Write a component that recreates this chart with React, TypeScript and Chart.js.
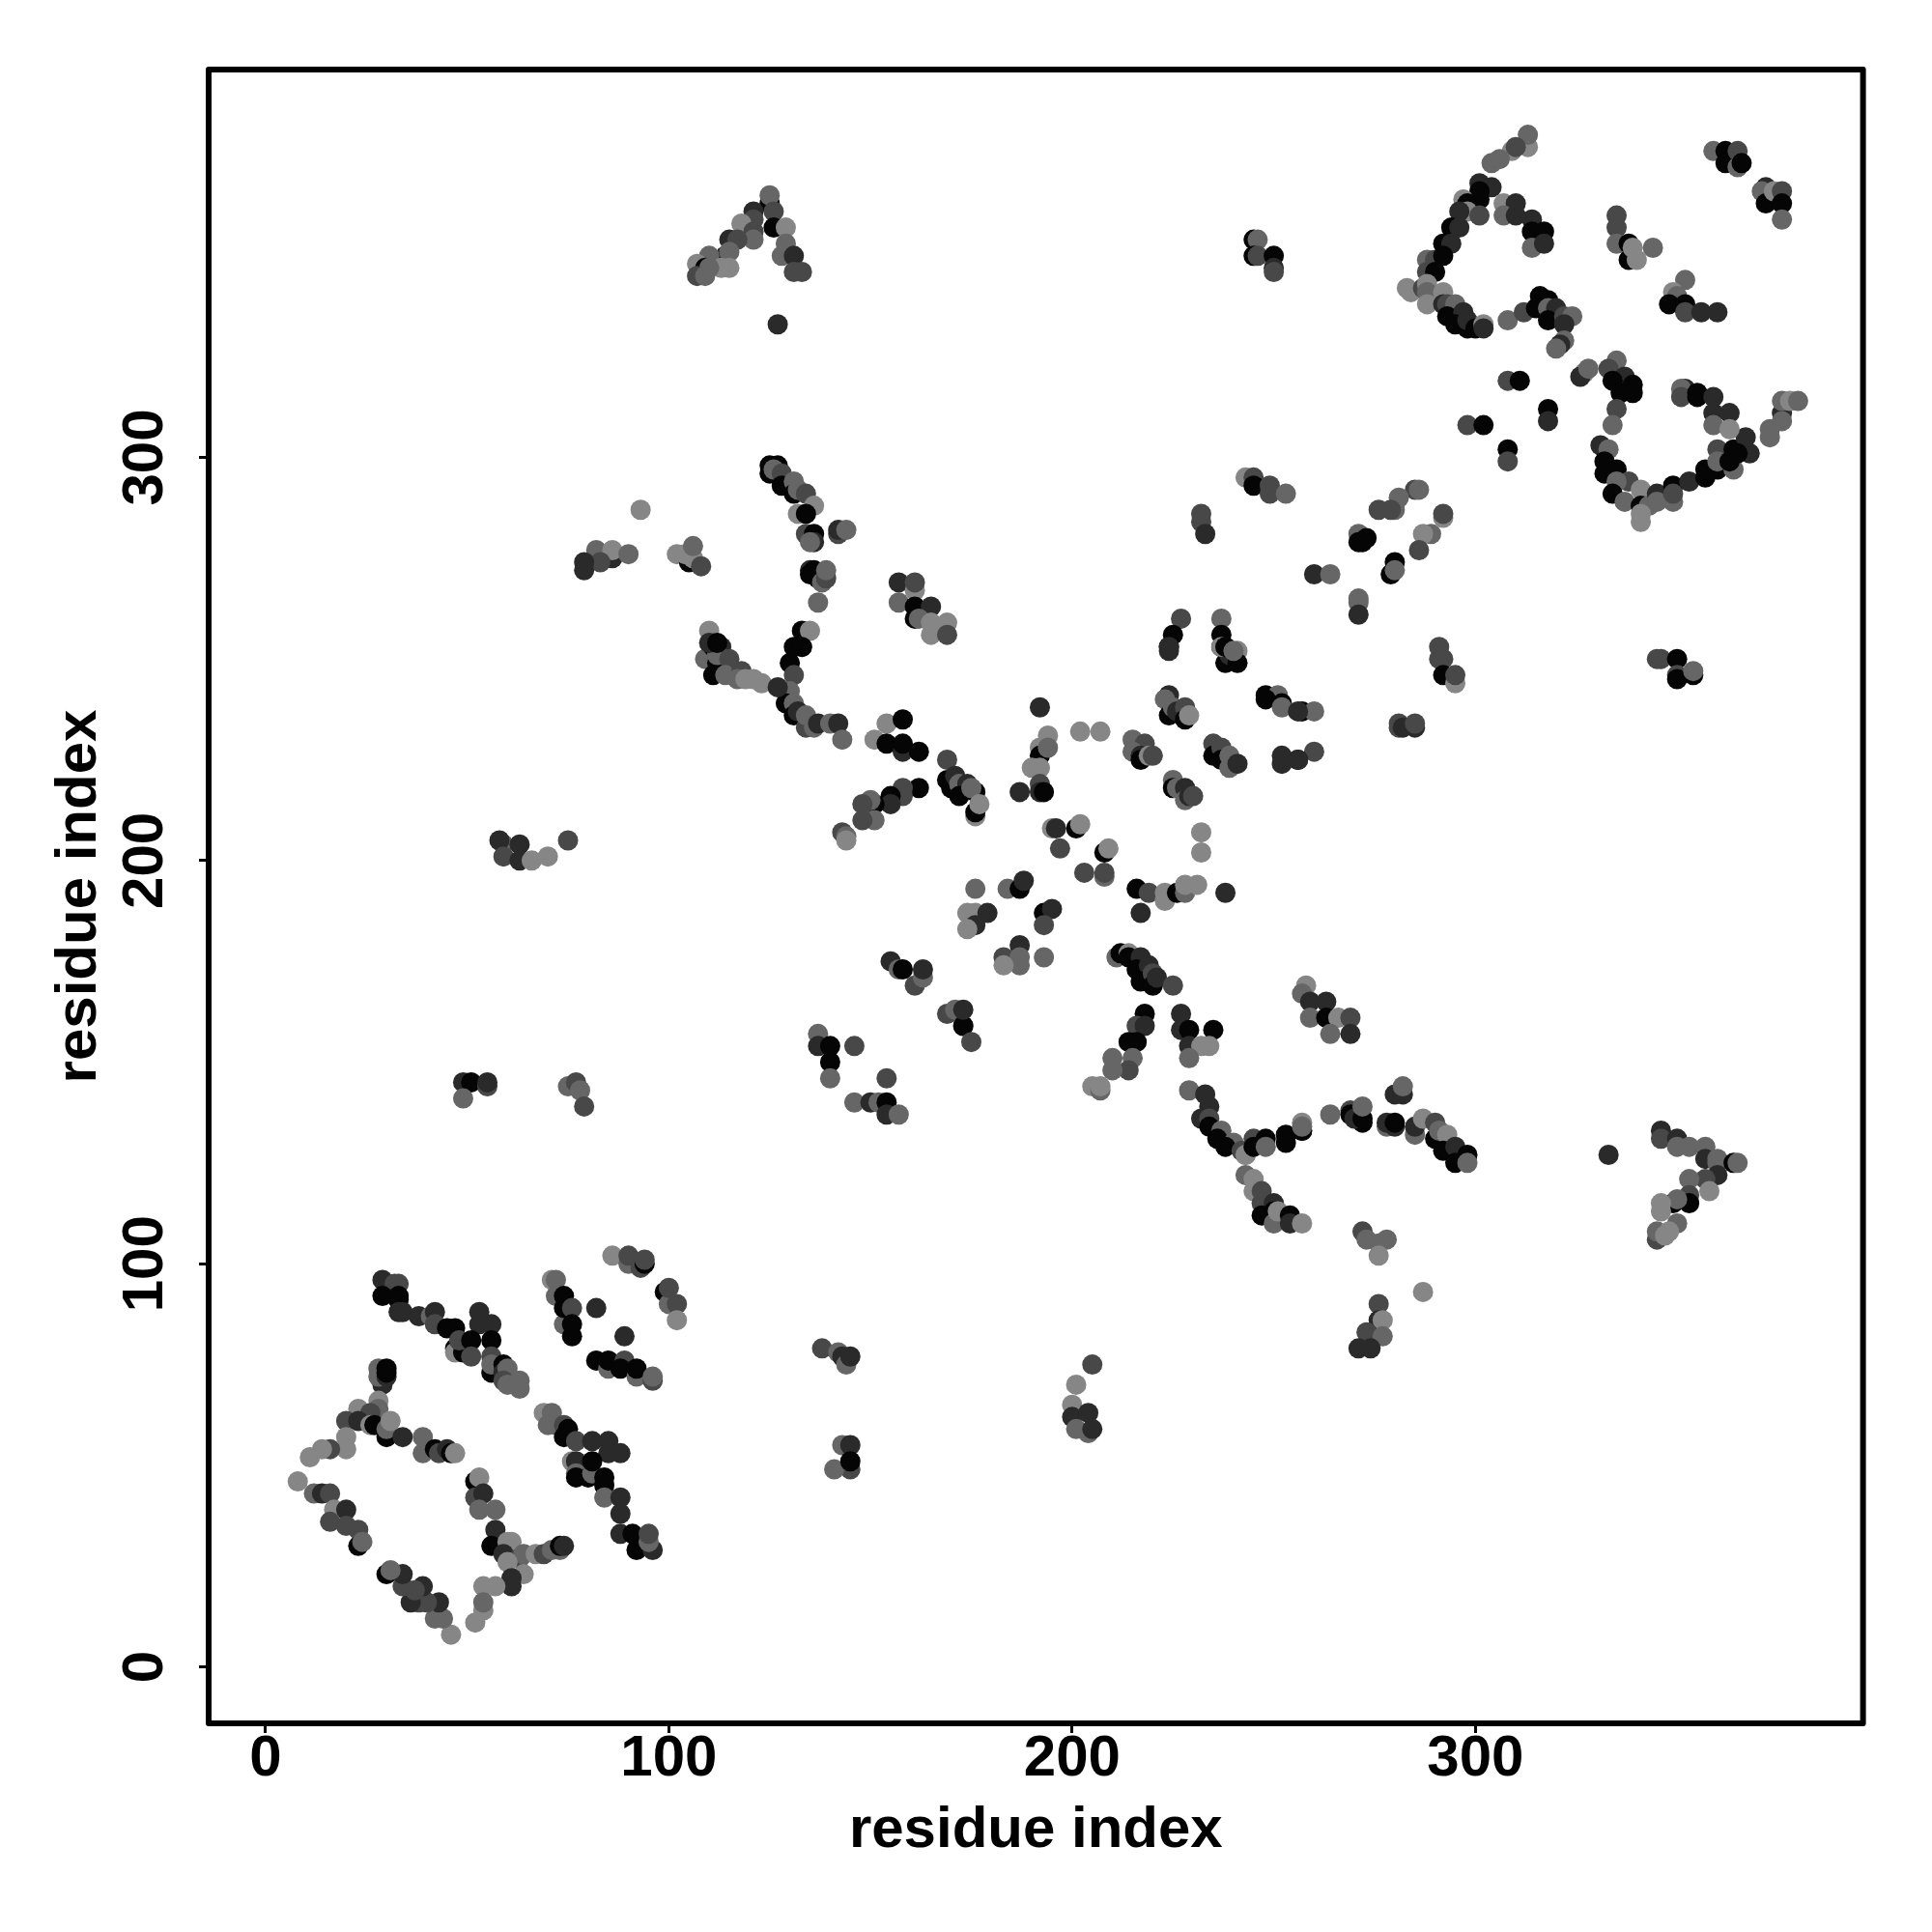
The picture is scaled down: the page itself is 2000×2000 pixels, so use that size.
import React, { useEffect, useRef } from "react";
import { Chart, registerables } from "chart.js";

Chart.register(...registerables);

type P = number[];

const xTickValues = [0, 100, 200, 300];
const yTickValues = [0, 100, 200, 300];
const axisLabel = "residue index";
const shades = ["#050505", "#2a2a2a", "#484848", "#666666", "#868686"];

// each contact: [residue i, residue j, shade index]
const bottomLeftUpper: P[] = [
  [29,96,1],[32,95,2],[33,95,2],[29,92,0],[33,92,0],[33,91,0],[33,88,1],[34,88,1],[38,87,1],[41,87,3],[42,88,1],[42,85,2],
  [45,84,0],[47,84,0],[53,88,1],[53,85,1],[56,85,1],[47,79,0],[47,78,4],[49,78,0],[48,81,2],[51,81,0],[56,81,0],[51,77,2],
  [56,77,2],[56,73,0],[56,75,3],[59,75,0],[59,73,1],[60,74,3],[59,71,2],[60,70,3],[63,71,3],[63,69,3],
  [86,102,4],[90,100,3],[90,102,2],[93,99,2],[94,100,0],[94,101,2],[99,93,0],[100,90,3],[100,94,2],[102,90,2],[102,86,4],
  [71,96,4],[72,96,3],[72,92,3],[74,92,0],[74,85,3],[74,89,0],[76,89,2],[76,85,0],[76,82,0],
  [82,89,1],[89,82,1],[82,76,0],[85,74,3],[85,76,0],[89,76,2],[88,74,0],[92,72,3],[92,74,0],[96,71,2],[96,72,3],
];
const bottomLeftLower: P[] = [
  [69,63,4],[71,63,3],[70,60,3],[72,60,3],[74,60,2],[75,59,0],[74,57,0],[77,56,2],[81,56,1],[85,56,1],[85,53,1],[88,53,1],
  [76,51,4],[77,51,1],[77,48,3],[77,47,0],[80,47,0],[81,48,3],[81,51,0],[84,47,0],[84,45,0],[84,42,3],[88,42,1],[88,38,1],
  [88,33,1],[91,33,0],[92,29,0],[96,29,1],[95,31,3],[95,33,2],
];
const bottomLeftRing: P[] = [
  [29,70,1],[28,72,3],[28,74,3],[30,72,1],[30,73,0],[30,74,0],[28,66,4],[28,64,3],[23,64,4],[26,63,2],[20,61,2],[23,61,1],
  [26,60,4],[27,60,0],[30,57,0],[30,59,3],[31,61,4],[34,57,1],[20,57,4],[20,54,4],[16,54,2],[14,54,4],[11,52,4],
  [39,53,3],[39,57,3],[42,54,0],[43,53,2],[45,54,1],[46,53,0],[47,53,4],
  [52,46,0],[53,47,4],[52,42,2],[54,43,1],[53,39,3],[57,39,3],[57,34,1],[56,30,0],[60,31,4],[61,31,4],[59,28,1],[63,27,2],
  [64,28,3],[67,28,4],[69,28,2],[71,29,3],[73,29,3],[73,30,0],[74,30,1],[60,26,4],[64,23,4],[61,22,1],[61,20,1],[57,20,4],
  [54,20,4],[54,14,4],[54,16,3],[52,11,4],[46,8,4],[42,12,3],[44,12,3],[43,16,1],[40,16,2],[38,16,2],[36,16,1],[39,20,1],
  [37,19,2],[34,20,2],[34,23,1],[30,23,0],[31,24,3],[8,46,4],[12,43,3],[14,43,1],[16,43,2],[17,39,4],[20,39,1],[16,36,2],
  [20,35,2],[23,34,2],[23,30,0],[24,31,3],
];
const topRightLoopA: P[] = [
  [313,377,4],[313,380,3],[309,376,4],[310,377,2],[304,373,3],[306,374,3],[301,368,1],[304,367,1],[301,366,0],[301,364,0],[297,364,4],
  [298,363,0],[298,361,4],[301,360,2],[296,361,1],[294,357,0],[296,357,1],[307,363,4],[310,363,1],[307,360,3],[310,360,1],[314,359,1],
  [314,356,0],[317,356,0],[314,352,3],[317,353,1],[292,353,0],[294,353,1],[288,349,3],[290,349,2],[292,350,0],[288,346,2],[290,346,0],
  [283,342,4],[284,341,4],[287,342,2],[288,343,4],[288,341,3],[292,341,4],[288,338,4],[292,338,1],[293,338,2],[295,338,3],[293,335,0],
  [297,336,1],[295,333,0],[298,332,0],[298,334,1],[300,332,0],[302,333,4],[302,332,1],[308,334,3],[312,336,2],
  [316,340,0],[318,339,0],[315,337,0],[318,337,3],[320,337,1],[318,334,0],[322,335,2],[324,335,3],[322,333,1],[322,329,3],[321,328,1],[320,327,3],
];
const topRightMiddle: P[] = [
  [308,319,2],[311,319,0],[318,312,0],[318,309,1],[298,308,2],[302,308,0],[308,302,0],[308,299,2],
  [327,321,4],[326,320,1],[328,322,3],[335,324,3],[333,322,2],[337,320,1],[334,319,0],[339,318,0],[336,316,0],[339,316,0],
  [335,312,2],[334,308,3],[331,303,1],[333,302,3],[332,299,0],[335,297,0],[332,296,0],[338,294,2],[335,294,3],[334,291,0],
  [337,289,3],[341,292,4],[341,288,0],[343,288,3],[341,284,4],[341,286,4],[345,291,1],[345,289,3],[349,289,3],[349,293,0],[349,291,2],
  [353,294,1],[357,295,0],[357,297,0],[360,297,0],[360,302,2],[360,299,3],[364,297,3],[364,302,0],[363,299,0],[367,305,1],[368,301,1],[365,301,0],
  [373,307,3],[373,305,3],[376,311,1],[376,309,3],[376,314,3],[378,314,4],[380,314,3],[359,311,1],[363,311,1],[359,308,3],[363,307,4],
  [352,317,1],[351,317,3],[351,315,2],[355,316,0],[355,315,0],[359,315,1],
];
const topRightCorner: P[] = [
  [359,376,3],[362,376,0],[362,373,0],[365,376,2],[365,372,3],[366,373,0],[372,367,1],[371,366,3],[372,363,0],[374,366,4],[376,366,2],
  [376,363,0],[376,359,3],[335,360,2],[335,357,2],[335,353,3],[338,353,0],[338,349,0],[339,352,4],[340,349,4],[344,352,3],
  [352,344,3],[349,341,4],[350,340,3],[348,338,0],[352,338,0],[352,336,2],[356,336,1],[360,336,1],
  [285,292,2],[286,292,3],[281,290,3],[280,287,3],[276,287,2],[279,287,2],[292,285,4],[292,286,2],[289,281,3],[287,281,4],[286,277,2],
  [271,281,3],[273,280,0],[271,279,0],[272,279,0],[280,274,0],[279,271,0],[280,272,3],[260,271,1],[264,271,3],[271,265,3],[271,264,3],[271,261,1],
];
const upperMidRight: P[] = [
  [291,253,2],[291,250,2],[292,250,2],[292,246,0],[295,244,4],[295,246,2],[346,250,2],[345,250,2],[350,250,0],[350,246,2],[350,245,0],[354,246,0],[354,247,3],
  [257,237,0],[260,237,3],[260,227,2],[256,225,0],[281,234,2],[281,233,2],[282,233,1],[285,233,1],[285,234,2],
  [258,169,4],[257,167,3],[259,165,1],[263,165,1],[259,161,3],[263,161,0],[266,161,4],[269,161,2],[264,157,3],[269,157,1],
  [280,142,1],[282,142,1],[282,144,3],[264,137,3],[257,133,0],[257,135,4],[269,138,2],[269,137,0],[272,135,0],[270,136,1],[272,136,0],[272,139,3],
  [278,134,3],[278,135,1],[280,134,1],[280,135,0],[285,132,3],[285,134,1],[287,136,4],[290,135,2],[290,131,0],[291,133,3],[293,132,4],[292,128,0],
  [295,129,1],[298,127,0],[295,125,0],[298,125,3],[333,127,1],
];
const rightLower: P[] = [
  [346,133,1],[346,131,2],[350,131,1],[350,129,3],[353,129,3],[357,129,3],[357,126,1],[360,126,3],[360,125,3],[364,125,0],[365,125,3],[360,122,1],
  [357,121,2],[353,121,3],[358,118,4],[353,117,2],[353,115,0],[349,115,0],[350,116,3],[346,115,4],[346,113,4],[350,110,3],[345,106,2],[345,108,3],[347,107,4],[348,108,4],
  [272,108,2],[273,106,3],[276,105,3],[278,106,3],[276,102,4],[287,93,4],[276,90,2],[276,86,1],[277,86,4],[273,83,2],[277,82,3],[271,79,1],[274,79,1],
];
const bottomMiddle: P[] = [
  [138,79,2],[142,78,3],[143,77,1],[144,75,3],[145,77,1],[143,55,3],[145,55,1],[145,49,2],[141,49,3],[145,51,0],
  [205,75,2],[201,70,4],[200,65,4],[200,62,1],[204,63,1],[201,59,3],[204,58,3],[205,59,1],
  [243,127,4],[243,122,3],[245,121,4],[245,118,4],[247,118,2],[247,115,2],[250,115,1],[247,112,0],[250,113,0],[250,110,3],[251,113,4],[254,112,0],[254,110,1],[257,110,4],
];
const centreUpperLeft: P[] = [
  [130,249,0],[133,253,0],[131,246,2],[130,242,3],[129,239,0],[131,239,3],[131,236,0],[132,237,1],[134,233,2],[134,236,3],[136,233,3],[137,234,1],[140,234,3],[142,234,1],[143,230,3],
  [154,234,4],[158,235,0],[151,230,4],[154,229,0],[158,227,1],[158,229,0],[162,227,0],
  [169,225,2],[169,220,0],[170,218,0],[171,221,1],[172,219,3],[174,219,1],[172,216,0],[176,217,0],[175,218,3],[176,211,4],[176,212,0],[177,214,4],
  [162,218,0],[158,218,2],[158,216,2],[155,216,0],[155,214,1],[151,214,0],[150,215,3],[148,214,2],[151,210,3],[148,210,2],[143,207,2],[144,206,3],[144,205,4],
  [192,238,1],[194,231,4],[192,228,4],[192,226,0],[194,228,3],[190,223,4],[192,223,4],[192,219,2],[187,217,1],[192,217,1],[193,217,0],[202,232,4],[207,232,4],
];
const centreUpperRight: P[] = [
  [215,230,3],[218,229,2],[215,227,3],[217,226,1],[217,225,0],[219,226,4],[220,226,2],
  [224,241,1],[223,240,3],[224,236,0],[225,238,3],[226,237,1],[228,238,2],[228,235,0],[229,236,4],
  [235,229,2],[235,226,0],[237,228,2],[237,225,0],[239,226,3],[239,223,3],[241,224,1],
  [225,220,3],[225,218,0],[226,218,3],[228,218,1],[228,215,3],[229,216,1],[230,216,2],
  [224,253,0],[224,252,1],[237,253,0],[241,252,4],[238,249,0],[239,251,1],[241,249,0],
  [248,241,0],[251,241,3],[248,240,0],[252,239,0],[252,238,3],[256,237,1],[252,224,1],[252,226,1],[256,225,1],
];
const centreRing: P[] = [
  [195,208,4],[196,208,1],[201,208,0],[202,209,4],[197,203,2],[208,202,0],[209,203,4],[203,197,2],[208,196,3],[208,197,2],[232,207,4],[232,202,4],
  [176,193,3],[184,193,3],[187,193,0],[188,195,1],[174,187,4],[176,187,4],[179,187,1],[176,184,1],[174,183,4],
  [193,187,0],[195,188,1],[193,184,2],[187,179,1],[183,176,2],[187,176,3],[187,174,3],[183,174,4],[193,176,3],
  [216,193,0],[219,192,2],[223,192,4],[223,190,4],[226,192,0],[228,192,3],[228,194,4],[231,194,4],[217,187,1],[238,192,1],
];
const centreLower: P[] = [
  [155,175,1],[157,173,3],[158,173,0],[161,169,2],[163,171,3],[163,173,1],[169,162,2],[171,163,3],[173,159,3],[173,159,0],[173,163,1],[175,155,2],
  [137,157,3],[137,154,1],[140,154,0],[140,150,0],[140,146,3],[146,154,2],[154,146,2],[146,140,3],[150,140,1],[152,140,3],[154,140,0],[154,137,1],[157,137,3],
  [211,176,3],[212,177,0],[214,177,4],[214,176,0],[217,176,1],[216,173,0],[219,174,1],[217,170,0],[220,172,2],[220,169,0],[221,171,1],[225,169,2],
  [218,162,0],[216,159,2],[218,159,1],[216,155,0],[214,155,0],[215,151,3],[210,151,3],[214,148,2],[210,148,3],
  [227,162,1],[227,158,1],[229,158,0],[235,158,0],[229,154,1],[234,154,4],[232,154,4],[229,151,3],[205,144,4],[207,143,3],[207,144,4],
  [229,143,3],[233,142,1],[234,139,1],[232,136,1],[234,136,2],[234,134,0],[237,133,3],[236,131,0],[240,130,3],[238,129,0],[242,128,2],[243,127,4],
  [245,131,2],[245,129,0],[248,131,0],[248,129,3],[253,132,0],[253,130,0],[257,133,0],[257,134,3],
];
const farLeft: P[] = [
  [109,250,3],[111,253,0],[113,253,1],[112,249,0],[112,251,3],[115,250,2],[111,246,0],[114,246,3],[118,247,2],[117,245,3],[119,245,4],[121,245,4],[123,244,4],[127,243,1],
  [59,204,3],[58,205,1],[63,204,1],[59,201,2],[63,200,1],[66,200,4],[70,201,4],[75,205,2],
  [49,145,1],[51,145,0],[55,144,2],[55,145,1],[49,141,3],[75,144,3],[77,145,2],[78,143,3],[79,139,2],
];
const topLeft: P[] = [
  [125,363,0],[125,365,3],[126,361,2],[121,361,1],[121,359,2],[118,358,4],[121,356,2],[121,354,3],[126,357,0],[129,357,4],[129,353,3],[128,350,3],[131,350,1],[131,346,2],[133,346,2],
  [115,354,1],[117,354,2],[114,350,1],[115,351,3],[110,350,3],[115,347,4],[113,347,4],[107,348,4],[109,347,0],[110,347,3],[107,345,2],[109,345,3],[127,333,1],
  [93,287,4],[82,277,3],[86,275,1],[86,277,4],[90,276,3],[83,274,2],[79,274,1],[79,272,1],[102,276,4],[105,274,0],[104,276,4],[106,275,4],[106,278,3],[108,273,2],
  [110,257,4],[110,254,1],[112,254,0],
];
const topArc: P[] = [
  [125,298,0],[127,298,0],[125,296,0],[126,297,3],[128,296,2],[128,293,0],[131,294,3],[131,291,0],[132,292,3],[134,291,2],[136,288,4],[132,286,4],[134,286,0],
  [134,281,2],[136,281,0],[136,279,1],[135,279,3],[142,281,2],[142,282,1],[144,282,3],
  [135,272,1],[136,272,0],[135,271,0],[137,270,0],[138,269,3],[139,270,2],[139,272,3],[137,264,3],[133,257,0],[135,257,4],[131,253,0],[133,253,0],
  [157,269,1],[161,267,4],[161,269,2],[157,264,3],[161,263,0],[165,263,1],[161,260,0],[162,260,3],[165,259,4],[169,259,4],[165,256,4],[169,256,2],
  [245,354,0],[246,354,3],[245,350,0],[246,350,2],[250,350,0],[250,347,1],[250,346,2],
  [243,295,4],[245,295,2],[245,293,0],[249,293,2],[249,291,2],[253,291,3],[232,286,2],[232,284,2],[233,281,1],
  [227,260,2],[237,260,3],[225,256,0],[237,256,0],[224,253,1],[237,253,4],[238,253,0],[240,252,3],
];

const allContacts: P[] = [
  ...bottomLeftUpper, ...bottomLeftLower, ...bottomLeftRing, ...topRightLoopA, ...topRightMiddle, ...topRightCorner,
  ...upperMidRight, ...rightLower, ...bottomMiddle, ...centreUpperLeft, ...centreUpperRight, ...centreRing, ...centreLower,
  ...farLeft, ...topLeft, ...topArc,
];

const frame = {
  id: "frame",
  afterDraw(chart: any) {
    const { ctx, chartArea: a } = chart;
    ctx.save();
    ctx.strokeStyle = "#000";
    ctx.lineWidth = 6;
    ctx.lineJoin = "round";
    ctx.strokeRect(a.left, a.top, a.right - a.left, a.bottom - a.top);
    ctx.restore();
  },
};

export default function App() {
  const ref = useRef<HTMLCanvasElement>(null);
  useEffect(() => {
    const font = { family: "'Liberation Sans', Arial, sans-serif", size: 60, weight: "bold" as const };
    const tickGrid = { drawOnChartArea: false, drawTicks: true, tickLength: 10, tickWidth: 3, tickColor: "#000" };
    const chart = new Chart(ref.current as HTMLCanvasElement, {
      type: "scatter",
      data: {
        datasets: [
          {
            data: allContacts.map((p) => ({ x: p[0], y: p[1] })),
            pointRadius: 10.5,
            pointBorderWidth: 0,
            pointHoverRadius: 10.5,
            pointBackgroundColor: allContacts.map((p) => shades[p[2]]),
          },
        ],
      },
      options: {
        animation: false,
        responsive: false,
        devicePixelRatio: 1,
        layout: { padding: { top: 72, right: 71.4, bottom: 0, left: 0 } },
        plugins: { legend: { display: false }, tooltip: { enabled: false } },
        scales: {
          x: {
            type: "linear",
            min: -14.1,
            max: 396.1,
            grid: tickGrid,
            border: { display: false },
            ticks: { color: "#000", font, padding: -9, includeBounds: false, maxRotation: 0, autoSkip: false },
            afterBuildTicks: (s: any) => { s.ticks = xTickValues.map((value) => ({ value })); },
            afterFit: (s: any) => { s.height = 216; },
            title: { display: true, text: axisLabel, color: "#000", font, padding: { top: 0, bottom: 69 } },
          },
          y: {
            type: "linear",
            min: -14.0,
            max: 396.2,
            grid: tickGrid,
            border: { display: false },
            ticks: { color: "#000", font, padding: 4, includeBounds: false, minRotation: 90, maxRotation: 90, autoSkip: false, crossAlign: "center" },
            afterBuildTicks: (s: any) => { s.ticks = yTickValues.map((value) => ({ value })); },
            afterFit: (s: any) => { s.width = 216; },
            title: { display: true, text: axisLabel, color: "#000", font, padding: { top: 46, bottom: 0 } },
          },
        },
      },
      plugins: [frame],
    } as any);
    return () => chart.destroy();
  }, []);
  return (
    <canvas
      ref={ref}
      width={2000}
      height={2000}
      style={{ position: "absolute", left: 0, top: 0, width: 2000, height: 2000, display: "block" }}
    />
  );
}
